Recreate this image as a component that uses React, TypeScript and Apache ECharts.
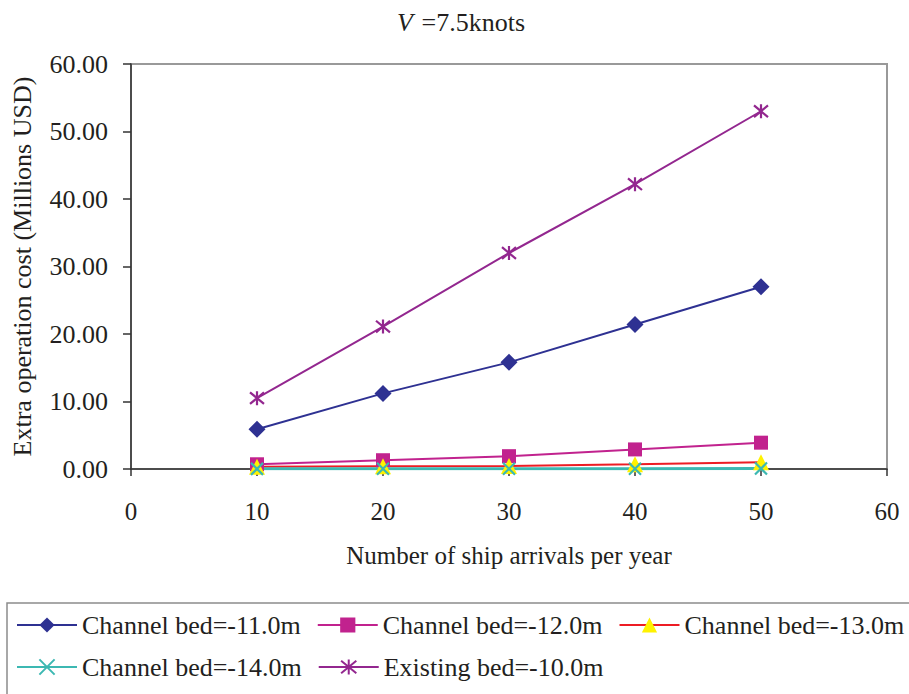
import React, { useEffect, useRef } from "react";
import * as echarts from "echarts";

// Ship arrivals per year (x) and extra operation cost in millions USD (y)
const arrivals = [10, 20, 30, 40, 50];
const seriesNames = [
  "Channel bed=-11.0m",
  "Channel bed=-12.0m",
  "Channel bed=-13.0m",
  "Channel bed=-14.0m",
  "Existing bed=-10.0m",
];
const bed11 = [5.9, 11.2, 15.8, 21.4, 27.0];
const bed12 = [0.7, 1.3, 1.9, 2.9, 3.9];
const bed13 = [0.35, 0.4, 0.45, 0.7, 1.0];
const bed14 = [0.02, 0.03, 0.04, 0.05, 0.06];
const existing10 = [10.5, 21.1, 32.0, 42.2, 53.0];

const FONT = '"Liberation Serif", "Times New Roman", serif';
const INK = "#231f20";

const CROSS = "path://M0,0L10,10M10,0L0,10";
const ASTERISK = "path://M0,0L10,10M10,0L0,10M5,-1L5,11";

const pairs = (ys: number[]) => arrivals.map((x, i) => [x, ys[i]]);

export default function App() {
  const ref = useRef<HTMLDivElement>(null);

  useEffect(() => {
    if (!ref.current) return;
    const chart = echarts.init(ref.current, null, { renderer: "svg" });

    const mk = (
      name: string,
      ys: number[],
      lineColor: string,
      symbol: string,
      symbolSize: number,
      fill: string,
      width: number,
      stroked = false
    ) => ({
      name,
      type: "line",
      data: pairs(ys),
      symbol,
      symbolSize,
      showSymbol: true,
      lineStyle: { color: lineColor, width },
      itemStyle: stroked
        ? { color: fill, borderColor: fill, borderWidth: 2.2 }
        : { color: fill, borderWidth: 0 },
      emphasis: { disabled: true },
    });

    chart.setOption({
      animation: false,
      backgroundColor: "#ffffff",
      textStyle: { fontFamily: FONT },
      grid: {
        left: 131,
        right: 22,
        top: 64,
        bottom: 225,
        show: true,
        borderColor: "#999999",
        borderWidth: 2,
        backgroundColor: "#ffffff",
      },
      xAxis: {
        type: "value",
        min: 0,
        max: 60,
        interval: 10,
        name: "Number of ship arrivals per year",
        nameLocation: "middle",
        nameGap: 74,
        nameTextStyle: { fontFamily: FONT, fontSize: 25, color: INK },
        axisLine: { show: true, onZero: false, lineStyle: { color: "#333333", width: 1.5 } },
        axisTick: { show: true, length: 7, lineStyle: { color: "#333333", width: 1.5 } },
        axisLabel: { fontFamily: FONT, fontSize: 25, color: INK, margin: 30 },
        splitLine: { show: false },
      },
      yAxis: {
        type: "value",
        min: 0,
        max: 60,
        interval: 10,
        name: "Extra operation cost (Millions USD)",
        nameLocation: "middle",
        nameGap: 96,
        nameRotate: 90,
        nameTextStyle: { fontFamily: FONT, fontSize: 26, color: INK },
        axisLine: { show: true, lineStyle: { color: "#333333", width: 1.5 } },
        axisTick: { show: true, length: 8, lineStyle: { color: "#333333", width: 1.5 } },
        axisLabel: {
          fontFamily: FONT,
          fontSize: 26,
          color: INK,
          margin: 23,
          formatter: (v: number) => v.toFixed(2),
        },
        splitLine: { show: false },
      },
      legend: {
        left: 16,
        top: 612,
        width: 905,
        padding: 0,
        itemWidth: 60,
        itemHeight: 19,
        itemGap: 16,
        data: seriesNames,
        textStyle: {
          fontFamily: FONT,
          fontSize: 26,
          lineHeight: 24,
          color: INK,
        },
      },
      graphic: [
        {
          type: "rect",
          shape: { x: 7, y: 603, width: 920, height: 120 },
          style: { fill: "none", stroke: "#8c8c8c", lineWidth: 1.5 },
          silent: true,
          z: -1,
        },
        {
          type: "text",
          left: 397,
          top: 9,
          style: {
            text: "V",
            fontFamily: FONT,
            fontSize: 26,
            fontStyle: "italic",
            fill: INK,
          },
        },
        {
          type: "text",
          left: 415,
          top: 9,
          style: {
            text: " =7.5knots",
            fontFamily: FONT,
            fontSize: 26,
            fill: INK,
          },
        },
      ],
      series: [
        mk(seriesNames[0], bed11, "#2e3192", "diamond", 17, "#2e3192", 2),
        mk(seriesNames[1], bed12, "#c1228e", "rect", 14, "#c1228e", 2),
        mk(seriesNames[2], bed13, "#ed1c24", "triangle", 16, "#fff200", 2),
        mk(seriesNames[3], bed14, "#3cb8b2", CROSS, 12, "#3cb8b2", 3, true),
        mk(seriesNames[4], existing10, "#93278f", ASTERISK, 14, "#93278f", 2, true),
      ],
    });

    return () => chart.dispose();
  }, []);

  return (
    <div
      ref={ref}
      style={{ position: "fixed", left: 0, top: 0, width: 909, height: 694 }}
    />
  );
}
